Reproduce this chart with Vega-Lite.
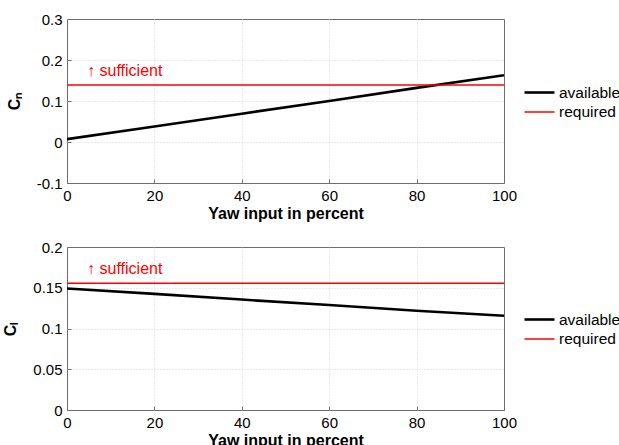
{
  "$schema": "https://vega.github.io/schema/vega-lite/v6.json",
  "background": "white",
  "padding": {"left": 2, "top": 11, "right": 0, "bottom": 0},
  "datasets": {
    "yawing": [
      {"x": 0, "coef": 0.007, "series": "available"},
      {"x": 20, "coef": 0.038, "series": "available"},
      {"x": 40, "coef": 0.069, "series": "available"},
      {"x": 60, "coef": 0.100, "series": "available"},
      {"x": 80, "coef": 0.132, "series": "available"},
      {"x": 100, "coef": 0.163, "series": "available"},
      {"x": 0, "coef": 0.139, "series": "required"},
      {"x": 100, "coef": 0.139, "series": "required"}
    ],
    "rolling": [
      {"x": 0, "coef": 0.149, "series": "available"},
      {"x": 20, "coef": 0.1425, "series": "available"},
      {"x": 40, "coef": 0.1355, "series": "available"},
      {"x": 60, "coef": 0.1288, "series": "available"},
      {"x": 80, "coef": 0.1218, "series": "available"},
      {"x": 100, "coef": 0.1157, "series": "available"},
      {"x": 0, "coef": 0.1556, "series": "required"},
      {"x": 100, "coef": 0.1556, "series": "required"}
    ]
  },
  "spacing": 64,
  "bounds": "flush",
  "vconcat": [
    {
      "width": 437,
      "height": 164,
      "layer": [
        {
          "data": {"name": "yawing"},
          "mark": {"type": "line", "clip": true},
          "encoding": {
            "x": {"field": "x", "type": "quantitative", "scale": {"domain": [0, 100], "nice": false}, "axis": {"title": "Yaw input in percent", "values": [0, 20, 40, 60, 80, 100], "gridOpacity": {"condition": {"test": "datum.value == 0 || datum.value == 100", "value": 0}, "value": 1}}},
            "y": {"field": "coef", "type": "quantitative", "scale": {"domain": [-0.1, 0.3], "nice": false, "zero": false}, "axis": {"title": "Cₙ", "values": [-0.1, 0, 0.1, 0.2, 0.3], "labelExpr": "'' + datum.value", "gridOpacity": {"condition": {"test": "datum.value < -0.09 || datum.value > 0.29", "value": 0}, "value": 1}}},
            "color": {"field": "series", "type": "nominal", "scale": {"domain": ["available", "required"], "range": ["#000000", "#ff0000"]}, "legend": {"legendX": 461, "legendY": 62}},
            "strokeWidth": {"field": "series", "type": "nominal", "scale": {"domain": ["available", "required"], "range": [2.6, 1.5]}, "legend": {"legendX": 461, "legendY": 62}}
          }
        },
        {
          "data": {"values": [{"x": 4.6, "coef": 0.172, "note": "↑ sufficient"}]},
          "mark": {"type": "text", "align": "left", "baseline": "middle", "color": "#ff0000", "font": "Liberation Sans", "fontSize": 16},
          "encoding": {
            "x": {"field": "x", "type": "quantitative"},
            "y": {"field": "coef", "type": "quantitative"},
            "text": {"field": "note"}
          }
        }
      ]
    },
    {
      "width": 437,
      "height": 163,
      "layer": [
        {
          "data": {"name": "rolling"},
          "mark": {"type": "line", "clip": true},
          "encoding": {
            "x": {"field": "x", "type": "quantitative", "scale": {"domain": [0, 100], "nice": false}, "axis": {"title": "Yaw input in percent", "values": [0, 20, 40, 60, 80, 100], "gridOpacity": {"condition": {"test": "datum.value == 0 || datum.value == 100", "value": 0}, "value": 1}}},
            "y": {"field": "coef", "type": "quantitative", "scale": {"domain": [0, 0.2], "nice": false}, "axis": {"title": "Cₗ", "values": [0, 0.05, 0.1, 0.15, 0.2], "labelExpr": "'' + datum.value", "gridOpacity": {"condition": {"test": "datum.value < 0.01 || datum.value > 0.19", "value": 0}, "value": 1}}},
            "color": {"field": "series", "type": "nominal", "scale": {"domain": ["available", "required"], "range": ["#000000", "#ff0000"]}, "legend": {"legendX": 461, "legendY": 61}},
            "strokeWidth": {"field": "series", "type": "nominal", "scale": {"domain": ["available", "required"], "range": [2.6, 1.5]}, "legend": {"legendX": 461, "legendY": 61}}
          }
        },
        {
          "data": {"values": [{"x": 4.6, "coef": 0.1726, "note": "↑ sufficient"}]},
          "mark": {"type": "text", "align": "left", "baseline": "middle", "color": "#ff0000", "font": "Liberation Sans", "fontSize": 16},
          "encoding": {
            "x": {"field": "x", "type": "quantitative"},
            "y": {"field": "coef", "type": "quantitative"},
            "text": {"field": "note"}
          }
        }
      ]
    }
  ],
  "resolve": {
    "scale": {"x": "independent", "y": "independent", "color": "independent", "strokeWidth": "independent"},
    "legend": {"color": "independent", "strokeWidth": "independent"}
  },
  "config": {
    "font": "Liberation Sans",
    "view": {"stroke": "#6e6e6e", "strokeWidth": 1},
    "axis": {
      "labelFont": "Liberation Sans",
      "labelFontSize": 15,
      "labelColor": "#000000",
      "labelFlush": false,
      "titleFont": "Liberation Sans",
      "titleFontSize": 16,
      "titleFontWeight": "bold",
      "titleColor": "#000000",
      "domain": false,
      "ticks": true,
      "tickSize": -4,
      "tickColor": "#6e6e6e",
      "labelPadding": 9,
      "gridColor": "#d4d4d4",
      "gridDash": [1, 2],
      "gridWidth": 1
    },
    "axisX": {"titlePadding": 2},
    "axisY": {"titlePadding": 14},
    "legend": {
      "orient": "none",
      "title": null,
      "symbolType": "M-1.5,0H1.5",
      "symbolSize": 400,
      "labelFont": "Liberation Sans",
      "labelFontSize": 15.5,
      "labelColor": "#000000",
      "labelOffset": 8,
      "rowPadding": 0,
      "padding": 0
    }
  }
}
